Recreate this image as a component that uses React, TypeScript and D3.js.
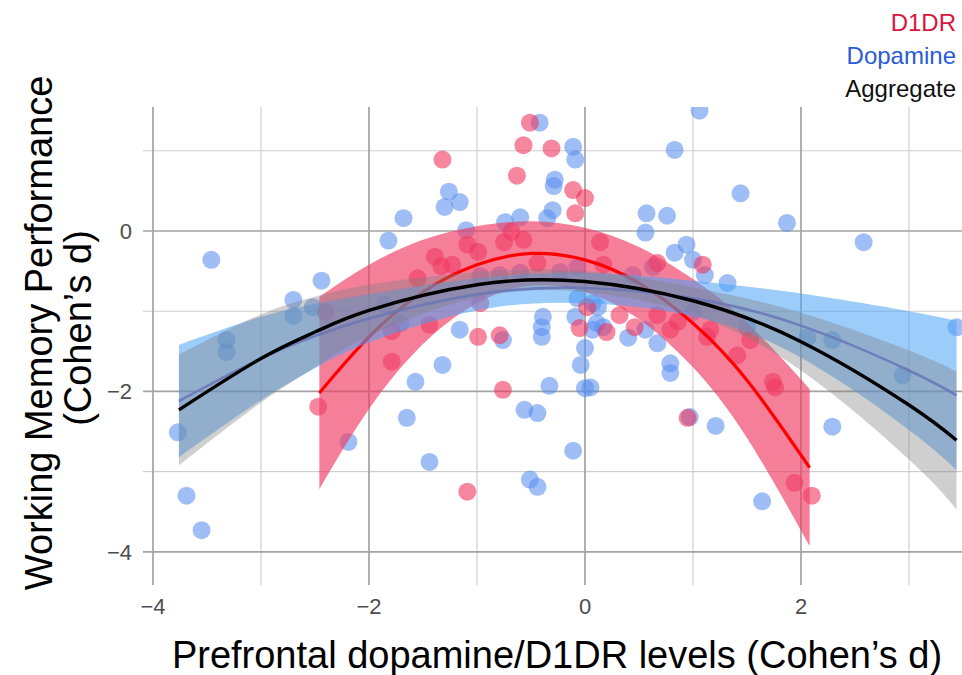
import React from "react";
import * as d3 from "d3";

// ---------- data ----------
const dopaminePoints: [number, number][] = [
  [1.06, 1.5], [-0.42, 1.35], [-0.11, 1.05], [-0.09, 0.89], [-0.28, 0.64], [-0.29, 0.56],
  [-1.26, 0.49], [-1.3, 0.3], [-1.16, 0.36], [-1.68, 0.16], [-1.82, -0.12], [-1.1, 0.01],
  [-0.74, 0.11], [-0.6, 0.17], [-0.35, 0.16], [-0.3, 0.26], [0.57, 0.22], [0.56, -0.02],
  [0.76, 0.19], [0.83, 1.01], [1.44, 0.47], [1.87, 0.1], [2.58, -0.14], [3.44, -1.2],
  [0.94, -0.17], [0.83, -0.27], [1.0, -0.36], [1.11, -0.55], [1.32, -0.65], [0.44, -0.55],
  [0.12, -0.95], [0.07, -1.23], [0.17, -1.2], [0.56, -1.23], [0.4, -1.33], [0.67, -1.4],
  [0.79, -1.65], [0.79, -1.77], [1.0, -1.01], [1.5, -1.2], [0.05, -1.95], [2.06, -1.33],
  [2.29, -1.36], [2.94, -1.8], [2.29, -2.44], [0.97, -2.32], [1.21, -2.43], [1.64, -3.37],
  [-1.32, -1.67], [-1.57, -1.88], [-1.65, -2.33], [-1.44, -2.88], [-0.56, -2.23], [-0.44, -2.27],
  [-0.33, -1.93], [-0.51, -3.1], [-0.44, -3.19], [-0.11, -2.74], [0.0, -1.46], [-0.04, -1.67],
  [0.0, -1.96], [-0.76, -1.36], [-0.4, -1.32], [-0.4, -1.2], [-0.39, -1.07], [-1.16, -1.23],
  [-3.32, -1.36], [-3.32, -1.51], [-3.77, -2.51], [-2.19, -2.63], [-3.69, -3.3], [-3.55, -3.73],
  [-3.46, -0.36], [-2.44, -0.62], [-2.7, -0.86], [-2.7, -1.06], [-2.52, -0.95], [-1.85, -0.92],
  [-1.71, -1.15], [-0.97, -0.56], [-0.79, -0.55], [-0.6, -0.52], [-0.23, -0.51], [-0.07, -0.45],
  [-0.07, -0.84], [0.07, -0.9], [-0.09, -1.07], [0.11, -1.15], [0.63, -0.45],
];

const d1drPoints: [number, number][] = [
  [-0.51, 1.35], [-1.32, 0.89], [-0.57, 1.07], [-0.31, 1.03], [-0.63, 0.69], [-0.11, 0.51],
  [0.0, 0.41], [-0.09, 0.22], [-0.68, -0.01], [-0.57, -0.11], [-0.75, -0.14], [-1.09, -0.17],
  [-0.99, -0.26], [-1.39, -0.32], [-1.33, -0.44], [-1.23, -0.42], [-1.55, -0.59], [-1.44, -1.17],
  [-1.79, -1.25], [-1.79, -1.63], [-2.4, -1.01], [-2.47, -2.19], [-0.99, -1.32], [-0.79, -1.3],
  [-0.97, -0.9], [-0.44, -0.4], [-0.76, -1.98], [-1.09, -3.25], [0.14, -0.14], [0.17, -0.42],
  [0.67, -0.4], [1.09, -0.42], [0.02, -0.95], [-0.05, -1.21], [0.2, -1.26], [0.32, -1.05],
  [0.46, -1.2], [0.67, -1.05], [0.79, -1.23], [0.86, -1.13], [1.16, -1.23], [1.13, -1.32],
  [1.41, -1.55], [1.53, -1.36], [1.74, -1.88], [1.76, -1.95], [0.95, -2.33], [1.94, -3.14],
  [2.1, -3.3],
];

// fitted quadratic curves with their standard-error bands
const d1drFitX = [-2.46, -2, -1.5, -1, -0.5, 0, 0.5, 1, 1.5, 2.08];
const d1drFitY = [-2.02, -1.32, -0.76, -0.42, -0.28, -0.36, -0.65, -1.15, -1.86, -2.95];
const d1drFitSE = [1.2, 0.9, 0.65, 0.48, 0.4, 0.4, 0.45, 0.55, 0.72, 0.98];

const dopFitX = [-3.76, -3, -2.5, -2, -1, 0, 1, 2, 3, 3.44];
const dopFitY = [-2.12, -1.59, -1.31, -1.09, -0.79, -0.71, -0.84, -1.18, -1.74, -2.05];
const dopFitSE = [0.7, 0.52, 0.4, 0.3, 0.2, 0.19, 0.22, 0.4, 0.74, 0.93];

const aggFitX = [-3.76, -3, -2.5, -2, -1, 0, 1, 2, 3, 3.44];
const aggFitY = [-2.23, -1.59, -1.26, -0.99, -0.67, -0.63, -0.87, -1.38, -2.17, -2.61];
const aggFitSE = [0.69, 0.55, 0.44, 0.32, 0.16, 0.13, 0.17, 0.36, 0.68, 0.86];

const xMajorTicks = [-4, -2, 0, 2];
const xMinorTicks = [-3, -1, 1, 3];
const yMajorTicks = [0, -2, -4];
const yMinorTicks = [1, -1, -3];

const legendItems = [
  { label: "D1DR", color: "#dc143c" },
  { label: "Dopamine", color: "#2a5bd7" },
  { label: "Aggregate", color: "#111111" },
];

const xTitle = "Prefrontal dopamine/D1DR levels (Cohen\u2019s d)";
const yTitle1 = "Working Memory Performance";
const yTitle2 = "(Cohen\u2019s d)";

// ---------- layout ----------
const W = 962;
const H = 675;
const panel = { left: 143, top: 107, bottom: 585, right: 1000 };
const FONT = "'Liberation Sans', Arial, Helvetica, sans-serif";

export default function App() {
  const x = d3.scaleLinear().domain([-4.0926, 3.8]).range([panel.left, panel.left + 7.8926 * 108]);
  const y = d3.scaleLinear().domain([-4.414, 1.546]).range([panel.bottom, panel.top]);

  const band = (xs: number[], fy: number[], se: number[]) => {
    const rows = xs.map((v, i) => ({ x: v, lo: fy[i] - se[i], hi: fy[i] + se[i] }));
    return d3
      .area<{ x: number; lo: number; hi: number }>()
      .x((d) => x(d.x))
      .y0((d) => y(d.lo))
      .y1((d) => y(d.hi))
      .curve(d3.curveNatural)(rows) as string;
  };
  const fitLine = (xs: number[], fy: number[]) => {
    const rows = xs.map((v, i) => [v, fy[i]] as [number, number]);
    return d3
      .line<[number, number]>()
      .x((d) => x(d[0]))
      .y((d) => y(d[1]))
      .curve(d3.curveNatural)(rows) as string;
  };

  const tickColor = "#4d4d4d";

  return (
    <svg
      width={W}
      height={H}
      style={{ position: "absolute", left: 0, top: 0, background: "#ffffff" }}
      fontFamily={FONT}
    >
      <defs>
        <clipPath id="panelClip">
          <rect x={panel.left} y={panel.top} width={panel.right - panel.left} height={panel.bottom - panel.top} />
        </clipPath>
      </defs>

      {/* grid */}
      <g>
        {yMinorTicks.map((t) => (
          <line key={"ymn" + t} x1={panel.left} x2={W} y1={y(t)} y2={y(t)} stroke="#cdcdcd" strokeWidth={1.1} />
        ))}
        {xMinorTicks.map((t) => (
          <line key={"xmn" + t} x1={x(t)} x2={x(t)} y1={panel.top} y2={panel.bottom} stroke="#cdcdcd" strokeWidth={1.1} />
        ))}
        {yMajorTicks.map((t) => (
          <line key={"ymj" + t} x1={panel.left} x2={W} y1={y(t)} y2={y(t)} stroke="#a3a3a3" strokeWidth={1.7} />
        ))}
        {xMajorTicks.map((t) => (
          <line key={"xmj" + t} x1={x(t)} x2={x(t)} y1={panel.top} y2={panel.bottom} stroke="#a3a3a3" strokeWidth={1.7} />
        ))}
      </g>

      <g clipPath="url(#panelClip)">
        {/* points */}
        {dopaminePoints.map((p, i) => (
          <circle key={"b" + i} cx={x(p[0])} cy={y(p[1])} r={9} fill="#5b8ff0" fillOpacity={0.58} />
        ))}
        {d1drPoints.map((p, i) => (
          <circle key={"r" + i} cx={x(p[0])} cy={y(p[1])} r={9} fill="#f0305a" fillOpacity={0.58} />
        ))}

        {/* D1DR fit */}
        <path d={band(d1drFitX, d1drFitY, d1drFitSE)} fill="#f03c64" fillOpacity={0.66} />
        <path d={fitLine(d1drFitX, d1drFitY)} fill="none" stroke="#ff0000" strokeWidth={3.2} />

        {/* Dopamine fit */}
        <path d={band(dopFitX, dopFitY, dopFitSE)} fill="#4aa3f5" fillOpacity={0.55} />
        <path d={fitLine(dopFitX, dopFitY)} fill="none" stroke="#5a6fd8" strokeWidth={2.6} strokeOpacity={0.85} />

        {/* Aggregate fit */}
        <path d={band(aggFitX, aggFitY, aggFitSE)} fill="#808080" fillOpacity={0.38} />
        <path d={fitLine(aggFitX, aggFitY)} fill="none" stroke="#000000" strokeWidth={3.4} />
      </g>

      {/* tick labels */}
      {xMajorTicks.map((t) => (
        <text key={"xl" + t} x={x(t)} y={614} textAnchor="middle" fontSize={22} fill={tickColor}>
          {t < 0 ? "\u2212" + Math.abs(t) : String(t)}
        </text>
      ))}
      {yMajorTicks.map((t) => (
        <text key={"yl" + t} x={132} y={y(t)} dy="0.36em" textAnchor="end" fontSize={22} fill={tickColor}>
          {t < 0 ? "\u2212" + Math.abs(t) : String(t)}
        </text>
      ))}

      {/* axis titles */}
      <text x={557} y={668} textAnchor="middle" fontSize={38} fill="#000">
        {xTitle}
      </text>
      <text transform={`translate(52, 333) rotate(-90)`} textAnchor="middle" fontSize={38} fill="#000">
        {yTitle1}
      </text>
      <text transform={`translate(91, 328) rotate(-90)`} textAnchor="middle" fontSize={38} fill="#000">
        {yTitle2}
      </text>

      {/* legend */}
      {legendItems.map((it, i) => (
        <text key={it.label} x={956} y={31 + i * 33} textAnchor="end" fontSize={24} fill={it.color}>
          {it.label}
        </text>
      ))}
    </svg>
  );
}
